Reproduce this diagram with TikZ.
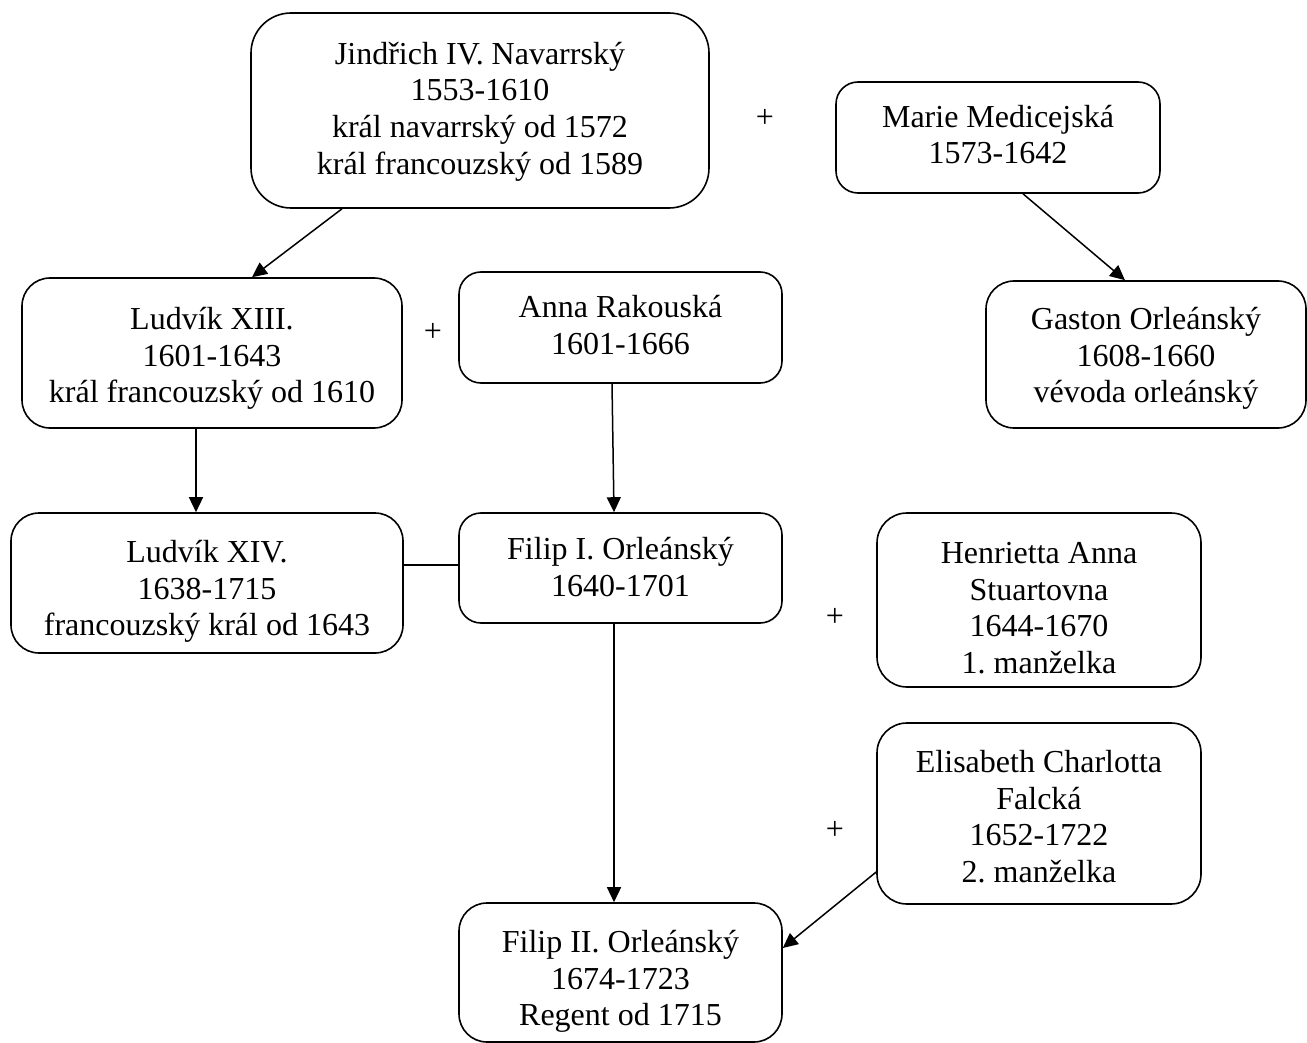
\documentclass[tikz,border=0pt]{standalone}
\usepackage{fontspec}
\setmainfont{Liberation Serif}
\frenchspacing
\usetikzlibrary{arrows.meta,calc}
\newcommand{\fst}{\rule{0pt}{28pt}}
\begin{document}
\begin{tikzpicture}[x=1pt,y=-1pt,
  box/.style={draw, line width=1.6pt, rounded corners=#1, inner sep=0pt},
  box/.default=24pt,
  txt/.style={anchor=north, align=center, inner sep=0pt, yshift=-2pt,
    font=\fontsize{32}{36.8}\selectfont},
  arr/.style={line width=1.5pt, -{Triangle[length=15pt,width=14pt]}},
  plain/.style={line width=1.5pt},
  plus/.style={font=\fontsize{32}{36.8}\selectfont, inner sep=0pt}]
\useasboundingbox (0,0) rectangle (1307,1043);

% boxes
\node[box=40pt, minimum width=458pt, minimum height=195pt] (j) at (480,110.5) {};
\node[box=22pt, minimum width=324pt, minimum height=111pt] (m) at (998,137.5) {};
\node[box=28pt, minimum width=380pt, minimum height=150pt] (l13) at (212,353) {};
\node[box=22pt, minimum width=323pt, minimum height=111pt] (a) at (620.5,327.5) {};
\node[box=28pt, minimum width=320pt, minimum height=147pt] (g) at (1146,354.5) {};
\node[box=28pt, minimum width=392pt, minimum height=140pt] (l14) at (207,583) {};
\node[box=22pt, minimum width=323pt, minimum height=110pt] (f1) at (620.5,568) {};
\node[box=30pt, minimum width=324pt, minimum height=174pt] (h) at (1039,600) {};
\node[box=30pt, minimum width=324pt, minimum height=181pt] (e) at (1039,813.5) {};
\node[box=28pt, minimum width=323pt, minimum height=139pt] (f2) at (620.5,972.5) {};

% texts (north = first baseline - 28)
\node[txt] (jt) at (480,34)
  {\fst Jindřich IV. Navarrský\\1553-1610\\král navarrský od 1572\\král francouzský od 1589};
\node[txt] (mt) at (998,97) {\fst Marie Medicejská\\1573-1642};
\node[txt] (l13t) at (212,299) {\fst Ludvík XIII.\\1601-1643\\král francouzský od 1610};
\node[txt] (at) at (620.5,287) {\fst Anna Rakouská\\1601-1666};
\node[txt] (gt) at (1146,299) {\fst Gaston Orleánský\\1608-1660\\vévoda orleánský};
\node[txt] (l14t) at (207,532) {\fst Ludvík XIV.\\1638-1715\\francouzský král od 1643};
\node[txt] (f1t) at (620.5,529) {\fst Filip I. Orleánský\\1640-1701};
\node[txt] (ht) at (1039,533) {\fst Henrietta Anna\\Stuartovna\\1644-1670\\1. manželka};
\node[txt] (et) at (1039,742) {\fst Elisabeth Charlotta\\Falcká\\1652-1722\\2. manželka};
\node[txt] (f2t) at (620.5,922) {\fst Filip II. Orleánský\\1674-1723\\Regent od 1715};

\node[plus] (p1) at (765,118) {+};
\node[plus] (p2) at (433,332) {+};
\node[plus] (p3) at (835,617) {+};
\node[plus] (p4) at (835,830) {+};

\draw[arr] ([xshift=-138pt]j.south) -- ([xshift=40pt]l13.north);
\draw[arr] ([xshift=25pt]m.south) -- ([xshift=-21pt]g.north);
\draw[arr] ([xshift=-16pt]l13.south) -- ([xshift=-11pt]l14.north);
\draw[arr] ([xshift=-8.5pt]a.south) -- ([xshift=-6.5pt]f1.north);
\draw[plain] ([yshift=18pt]l14.east) -- ([yshift=3pt]f1.west);
\draw[arr] ([xshift=-6.5pt]f1.south) -- ([xshift=-6.5pt]f2.north);
\draw[arr] ([yshift=-58.5pt]e.west) -- ([yshift=24.5pt]f2.east);
\end{tikzpicture}
\end{document}
